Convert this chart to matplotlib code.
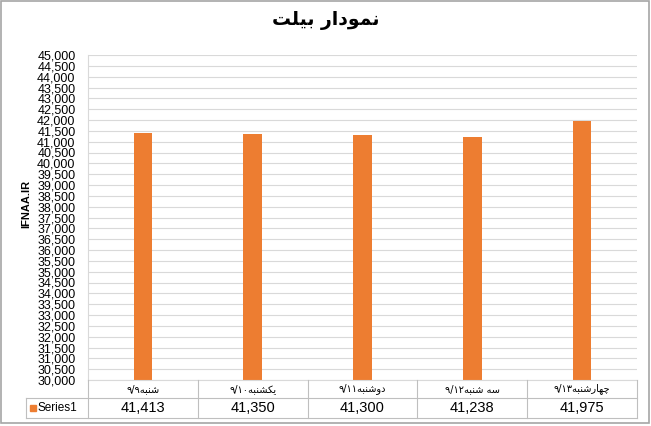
import matplotlib
matplotlib.use('Agg')
import matplotlib.pyplot as plt
from matplotlib.patches import Rectangle

# ── data ─────────────────────────────────────────────
title = 'نمودار بیلت'
categories = ['شنبه۹/۹', 'یکشنبه۹/۱۰', 'دوشنبه۹/۱۱', 'سه شنبه۹/۱۲', 'چهارشنبه۹/۱۳']
values = [41413, 41350, 41300, 41238, 41975]
series_name = 'Series1'
y_label = 'IFNAA.IR'

# ── minimal arabic shaping + bidi (matplotlib has none) ──
# char: (isolated, final, initial, medial); right-joining letters have no initial/medial
FORMS = {
    'ا': ('\uFE8D', '\uFE8E', None, None),
    'ب': ('\uFE8F', '\uFE90', '\uFE91', '\uFE92'),
    'ت': ('\uFE95', '\uFE96', '\uFE97', '\uFE98'),
    'د': ('\uFEA9', '\uFEAA', None, None),
    'ر': ('\uFEAD', '\uFEAE', None, None),
    'س': ('\uFEB1', '\uFEB2', '\uFEB3', '\uFEB4'),
    'ش': ('\uFEB5', '\uFEB6', '\uFEB7', '\uFEB8'),
    'ل': ('\uFEDD', '\uFEDE', '\uFEDF', '\uFEE0'),
    'م': ('\uFEE1', '\uFEE2', '\uFEE3', '\uFEE4'),
    'ن': ('\uFEE5', '\uFEE6', '\uFEE7', '\uFEE8'),
    'ه': ('\uFEE9', '\uFEEA', '\uFEEB', '\uFEEC'),
    'و': ('\uFEED', '\uFEEE', None, None),
    'ی': ('\uFBFC', '\uFBFD', '\uFBFE', '\uFBFF'),
    'ک': ('\uFB8E', '\uFB8F', '\uFB90', '\uFB91'),
    'چ': ('\uFB7A', '\uFB7B', '\uFB7C', '\uFB7D'),
}


def shape(s):
    out = []
    for i, c in enumerate(s):
        if c not in FORMS:
            out.append(c)
            continue
        prev = s[i - 1] if i > 0 else ''
        nxt = s[i + 1] if i + 1 < len(s) else ''
        j_prev = prev in FORMS and FORMS[prev][2] is not None
        j_next = nxt in FORMS and FORMS[c][2] is not None
        iso, fin, ini, med = FORMS[c]
        if j_prev and j_next:
            out.append(med)
        elif j_prev:
            out.append(fin)
        elif j_next:
            out.append(ini)
        else:
            out.append(iso)
    return ''.join(out)


def visual(s):
    shaped = shape(s)
    ltr = set('0123456789/۰۱۲۳۴۵۶۷۸۹')
    runs, cur, cur_ltr = [], '', None
    for c in shaped:
        is_ltr = c in ltr
        if cur and is_ltr != cur_ltr:
            runs.append((cur, cur_ltr))
            cur = ''
        cur += c
        cur_ltr = is_ltr
    if cur:
        runs.append((cur, cur_ltr))
    return ''.join(r if l else r[::-1] for r, l in runs[::-1])


# ── figure ───────────────────────────────────────────
W, H = 651, 426
fig = plt.figure(figsize=(W / 100, H / 100), dpi=100)
fig.patch.set_facecolor('white')


def fx(px):
    return px / W


def fy(py):
    return 1 - py / H


fig.add_artist(Rectangle((fx(1), fy(423)), fx(649) - fx(1), fy(1) - fy(423),
                         transform=fig.transFigure, fill=False,
                         edgecolor='#A6A6A6', linewidth=1.2))

fig.text(0.5, fy(20), visual(title), family='DejaVu Sans', fontweight='bold',
         fontsize=13.5, ha='center', va='center', color='black')

L, R, T, B = 88, 637, 55, 380
ax = fig.add_axes([fx(L), fy(B), fx(R) - fx(L), fy(T) - fy(B)])
x = list(range(len(categories)))
ax.bar(x, values, width=0.17, color='#ED7D31', zorder=3)
ax.set_xlim(-0.5, len(categories) - 0.5)
ax.set_ylim(30000, 45000)
ticks = list(range(30000, 45001, 500))
ax.set_yticks(ticks)
ax.set_yticklabels([f'{t:,}' for t in ticks], family='Liberation Sans', fontsize=9)
ax.tick_params(axis='y', length=0, pad=9)
ax.set_xticks([])
ax.grid(axis='y', color='#D9D9D9', linewidth=0.8, zorder=0)
for side in ['top', 'right', 'bottom']:
    ax.spines[side].set_visible(False)
ax.spines['left'].set_color('#D9D9D9')
ax.spines['left'].set_linewidth(0.8)

fig.text(fx(26), fy(204), y_label, family='Liberation Sans', fontweight='bold',
         fontsize=8, rotation=90, ha='center', va='center')

# ── data table ───────────────────────────────────────
TL, TB = 26, 418
unit = (R - L) / len(categories)
tab = fig.add_axes([fx(TL), fy(TB), fx(R) - fx(TL), fy(B) - fy(TB)])
tab.set_xlim(-0.5 - (L - TL) / unit, len(categories) - 0.5)
tab.set_ylim(0, TB - B)
tab.axis('off')
mid = TB - 398
lc = '#BFBFBF'
xl = -0.5 - (L - TL) / unit
tab.plot([-0.5, len(categories) - 0.5], [TB - B, TB - B], color='#D9D9D9', lw=0.8, clip_on=False)
tab.plot([xl, len(categories) - 0.5], [mid, mid], color=lc, lw=0.8, clip_on=False)
tab.plot([xl, len(categories) - 0.5], [0, 0], color=lc, lw=0.8, clip_on=False)
tab.plot([xl, xl], [0, mid], color=lc, lw=0.8, clip_on=False)
for k in range(len(categories) + 1):
    tab.plot([k - 0.5, k - 0.5], [0, TB - B], color=lc, lw=0.8, clip_on=False)
for k, (c, v) in enumerate(zip(categories, values)):
    tab.text(k, (mid + TB - B) / 2, visual(c), family='DejaVu Sans', fontsize=7,
             ha='center', va='center')
    tab.text(k, mid / 2, f'{v:,}', family='Liberation Sans', fontsize=10.5,
             ha='center', va='center')
tab.add_patch(Rectangle((xl + 4 / unit, mid / 2 - 3), 6 / unit, 6, color='#ED7D31', clip_on=False))
tab.text(xl + 11 / unit, mid / 2, series_name, family='Liberation Sans', fontsize=8.5,
         ha='left', va='center')

fig.savefig('out.png', dpi=100)
